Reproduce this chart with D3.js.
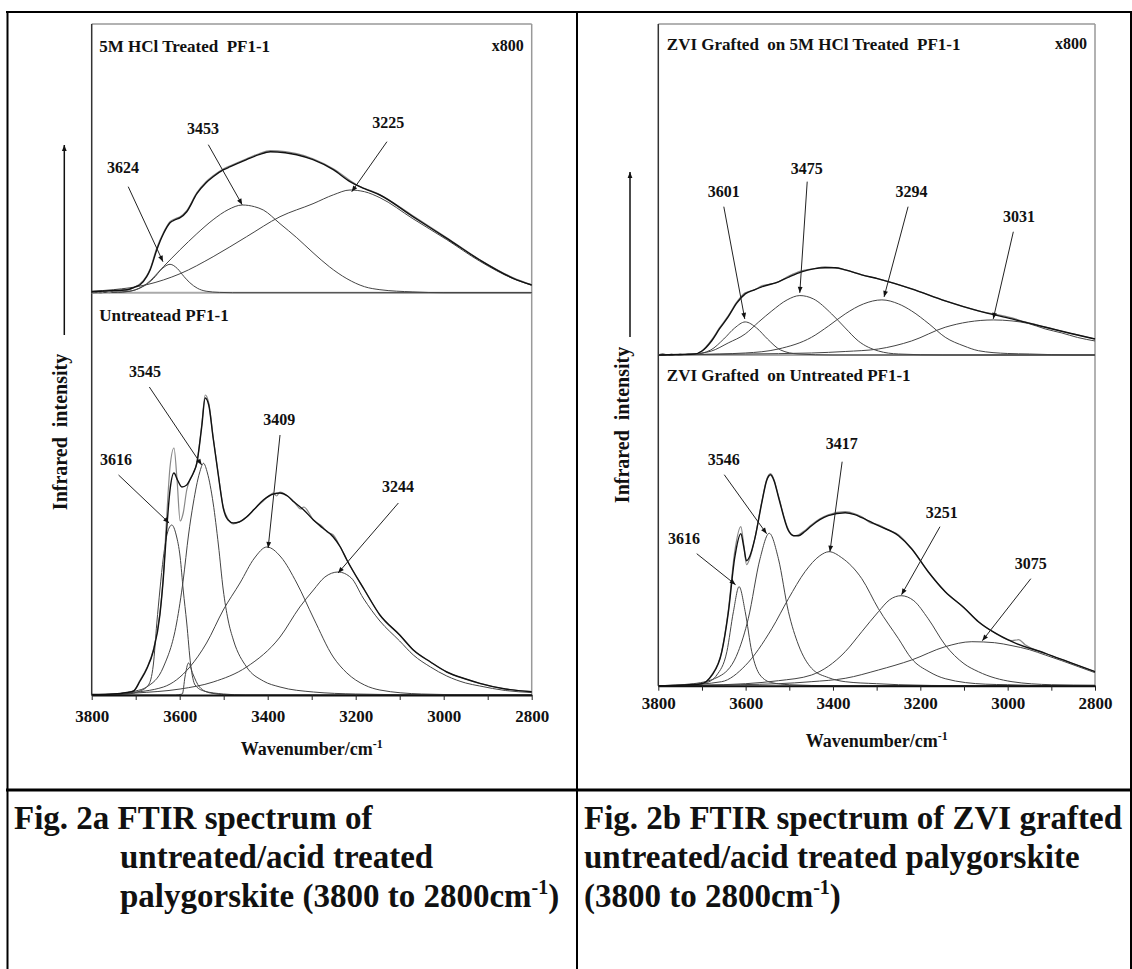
<!DOCTYPE html>
<html>
<head>
<meta charset="utf-8">
<script src="https://cdn.jsdelivr.net/npm/d3@7"></script>
<style>
body { margin: 0; background: #fff; }
svg { display: block; }
text { font-family: "Liberation Serif", "Times New Roman", serif; font-weight: bold; fill: #111; }
</style>
</head>
<body>
<div id="chart"></div>
<script>
// wavenumber axis
const wnTicks = d3.range(3800, 2799, -100);

// ---- Fig 2a upper: 5M HCl treated PF1-1 (x800) ----
const acidMeasured = [[3800,-1],[3790,1],[3780,-0.5],[3770,1.5],[3760,0],[3750,2],[3740,1],[3730,3],[3720,2.5],[3700,6],[3690,9],[3675,17],[3667,24],[3652,45],[3637,60],[3622,71],[3610,74],[3599,76],[3584,82],[3561,100],[3540,111],[3524,117],[3500,124],[3485,127],[3448,134],[3420,139],[3394,142],[3360,141],[3334,139],[3297,134],[3251,124],[3198,108],[3145,98],[3070,77],[2993,55],[2918,33],[2842,15],[2800,8]];
const acidFit = [[3800,1],[3760,2],[3720,3],[3700,6],[3690,8],[3675,16],[3667,23],[3652,43],[3637,59],[3622,70],[3610,73],[3599,75],[3584,81],[3561,99],[3540,110],[3524,116],[3500,123],[3485,126],[3448,133],[3420,138],[3394,141],[3360,140],[3334,138],[3297,133],[3251,123],[3213,111],[3180,104],[3145,97.7],[3070,76],[2993,54.4],[2918,32.7],[2842,14.4],[2800,7.7]];
const acid3624 = [[3800,0],[3740,0.3],[3720,1],[3700,3],[3680,7],[3660,14],[3640,24],[3622,28.4],[3605,24],[3590,16],[3577,10],[3560,4.5],[3540,1.5],[3510,0.3],[3480,0],[2800,0]];
const acid3453 = [[3800,0],[3750,0.5],[3713,1.5],[3675,9],[3637,26],[3599,43],[3561,59],[3524,73],[3490,83],[3458,87.7],[3430,86],[3410,82.7],[3372,69],[3334,55],[3297,40],[3260,26],[3220,14],[3180,6],[3145,3],[3070,0.8],[3000,0],[2800,0]];
const acid3225 = [[3800,1.5],[3751,3],[3675,8],[3599,19],[3524,36],[3448,56],[3372,76],[3297,89],[3250,98],[3213,102.7],[3180,101],[3145,95],[3070,74],[2993,53],[2918,31.5],[2842,14],[2800,7.5]];
const acidLabels = ["3624", "3453", "3225"];
const acidLabelAt = [[3729,120],[3547,159],[3126,165]];
const acidArrowFrom = [[3717,106],[3535,148],[3129,151]];
const acidArrowTo = [[3638,31],[3458,88],[3209,101]];

// ---- Fig 2a lower: untreated PF1-1 ----
const untrMeasured = [[3800,0.5],[3750,1],[3720,2.5],[3705,4],[3690,15],[3675,27],[3660,45],[3645,82],[3637,120],[3630,175],[3622,228],[3613,247],[3606,215],[3599,174],[3592,182],[3584,205],[3577,215],[3569,222],[3561,232],[3550,270],[3542,300],[3534,292],[3524,258],[3512,220],[3501,188],[3490,176],[3478,171],[3465,173],[3448,178],[3430,186],[3410,194],[3395,200],[3387,202],[3380,199],[3372,203],[3355,199],[3340,193],[3325,186],[3318,188],[3296,175],[3275,168],[3265,163],[3251,160],[3235,148],[3220,135],[3180,105],[3145,80],[3100,60],[3069,45],[3030,33],[2993,23],[2950,16],[2918,11.7],[2860,6],[2800,3.3]];
const untrFit = [[3800,0.5],[3750,1],[3720,2.5],[3705,4],[3690,14],[3675,26],[3660,44],[3645,80],[3637,118],[3630,163],[3622,205],[3613,222],[3605,215],[3595,208],[3584,210],[3577,215],[3569,222],[3561,232],[3550,268],[3542,297],[3534,290],[3524,257],[3512,219],[3501,187],[3490,175],[3478,172],[3465,173],[3448,178],[3430,186],[3410,195],[3387,201],[3372,202],[3355,199],[3340,193],[3318,185],[3296,175],[3275,167],[3251,158],[3235,148],[3220,135],[3180,105],[3145,80],[3100,60],[3069,45],[3030,33],[2993,23],[2950,16],[2918,11.7],[2860,6],[2800,3.3]];
const untr3616 = [[3800,0],[3720,1],[3690,4],[3671,10],[3660,30],[3652,72],[3645,105],[3637,138],[3628,162],[3618,170],[3608,160],[3599,138],[3592,105],[3584,72],[3575,30],[3565,10],[3545,4],[3500,1],[3450,0],[2800,0]];
const untr3580 = [[3800,0],[3610,0],[3594,1],[3588,18],[3580,32],[3570,21],[3555,8],[3530,2],[3480,0],[2800,0]];
const untr3545 = [[3800,0],[3750,1],[3700,4],[3675,8],[3637,28],[3607,72],[3592,115],[3580,160],[3569,192],[3555,222],[3546,231.7],[3537,222],[3524,192],[3512,150],[3501,105],[3490,75],[3478,55],[3448,28],[3410,14],[3372,8],[3296,3],[3200,1],[3000,0],[2800,0]];
const untr3409 = [[3800,0],[3720,2],[3637,8],[3577,28],[3539,52],[3501,85],[3463,112],[3430,137],[3402,148],[3370,138],[3334,112],[3296,77],[3251,38],[3220,22],[3180,10],[3145,5],[3050,1],[2900,0],[2800,0]];
const untr3244 = [[3800,0],[3700,2],[3599,6],[3524,13],[3448,28],[3372,58],[3327,88],[3296,105],[3270,118],[3240,123],[3210,117],[3183,97],[3145,74],[3100,54],[3069,40],[3030,28],[2993,19],[2950,12],[2918,9],[2860,4.5],[2800,2.5]];
const untrLabels = ["3616", "3545", "3409", "3244"];
const untrLabelAt = [[3745,230],[3679,318],[3374,270],[3104,203]];
const untrArrowFrom = [[3739,220],[3669,308],[3372,260],[3103,192]];
const untrArrowTo = [[3624,172],[3550,230],[3399,147],[3240,122]];

// ---- Fig 2b upper: ZVI grafted on 5M HCl treated PF1-1 (x800) ----
const zvaMeasured = [[3800,0],[3790,1.5],[3780,0],[3770,1],[3760,-0.5],[3750,1],[3740,0],[3730,1.5],[3716,1],[3700,4],[3678,15],[3660,27],[3640,39],[3620,53],[3601,62],[3580,65],[3563,69],[3540,71],[3525,73],[3500,79],[3472,84],[3445,86],[3418,88],[3395,87],[3372,85],[3334,80],[3296,76],[3220,66],[3143,54],[3067,44],[2990,37],[2960,33],[2914,28],[2850,21],[2800,16]];
const zvaFit = [[3800,0],[3750,0.5],[3716,1],[3700,4],[3678,14],[3660,26],[3640,38],[3620,52],[3601,61],[3580,65],[3563,68],[3525,73],[3500,78],[3472,83],[3445,86],[3418,87],[3395,87],[3372,85],[3334,80],[3296,76],[3220,66],[3143,54],[3067,44],[2990,36],[2914,27.7],[2850,21],[2800,16]];
const zva3601 = [[3800,0],[3720,0.5],[3680,5],[3650,16],[3625,27],[3601,33],[3575,27],[3550,16],[3520,5],[3480,1],[3400,0],[2800,0]];
const zva3475 = [[3800,0],[3750,0.5],[3700,2],[3678,4],[3640,12],[3601,21],[3570,33],[3540,44],[3505,55],[3476,59.3],[3445,56],[3403,41],[3372,27],[3342,14],[3296,4],[3250,1],[3150,0],[2800,0]];
const zva3294 = [[3800,0],[3720,0.5],[3601,2],[3525,6],[3449,17.7],[3410,29],[3372,41],[3330,51],[3288,55],[3250,51],[3220,44],[3180,31],[3143,17.7],[3100,9],[3067,4.3],[3000,1.5],[2950,1],[2850,0],[2800,0]];
const zva3031 = [[3800,0],[3600,1],[3449,2],[3372,3.5],[3296,6],[3220,14],[3143,27.7],[3090,33],[3033,35],[2990,34],[2953,31.5],[2914,26],[2876,22],[2840,17.5],[2800,14]];
const zvaLabels = ["3601", "3475", "3294", "3031"];
const zvaLabelAt = [[3650,158],[3460,181],[3220,158],[2974,133]];
const zvaArrowFrom = [[3650,148],[3459,173],[3228,148],[2987,123]];
const zvaArrowTo = [[3602,36],[3476,62],[3283,58],[3033,36]];

// ---- Fig 2b lower: ZVI grafted on untreated PF1-1 ----
const zvuMeasured = [[3800,0],[3750,0.5],[3701,2],[3678,10.7],[3655,34],[3640,74],[3625,134],[3611,159],[3604,140],[3598,121],[3590,128],[3579,147],[3563,184],[3552,206],[3543,212],[3535,206],[3525,190],[3502,156],[3490,150],[3479,151],[3465,155],[3449,161],[3430,167],[3411,171],[3372,174],[3350,172],[3334,169],[3315,163],[3296,161],[3275,156],[3250,151],[3220,137],[3182,114],[3143,94],[3100,78],[3067,64],[3030,53],[2990,45],[2975,46],[2960,41],[2914,32.4],[2850,22],[2800,14]];
const zvuFit = [[3800,0],[3750,0.5],[3701,2],[3678,10],[3655,33],[3640,72],[3625,128],[3611,152],[3604,138],[3598,125],[3590,130],[3579,147],[3563,183],[3552,205],[3543,211],[3535,205],[3525,189],[3502,155],[3490,150],[3479,150],[3465,154],[3449,160],[3430,166],[3411,170],[3372,173],[3350,171],[3334,168],[3296,160],[3250,150],[3220,137],[3182,114],[3143,94],[3100,78],[3067,64],[3030,53],[2990,44],[2914,32.4],[2850,22],[2800,14]];
const zvu3616 = [[3800,0],[3720,1],[3690,3],[3666,10.7],[3643,34],[3628,74],[3615,99],[3601,74],[3586,34],[3567,10.7],[3540,3],[3500,1],[3400,0],[2800,0]];
const zvu3546 = [[3800,0],[3720,2],[3655,10.7],[3617,34],[3594,67],[3567,127],[3546,152.4],[3525,127],[3502,74],[3479,40.7],[3449,17.4],[3410,8],[3372,4],[3300,2],[3250,1],[3100,0],[2800,0]];
const zvu3417 = [[3800,0],[3750,0.5],[3655,4],[3601,20],[3540,57],[3502,87],[3464,114],[3430,130],[3409,134],[3380,128],[3334,107],[3296,77],[3250,47],[3220,27],[3180,14],[3143,7],[3050,1.5],[3000,1],[2900,0],[2800,0]];
const zvu3251 = [[3800,0],[3700,0.5],[3600,2],[3525,5],[3449,10.7],[3372,34],[3334,54],[3296,74],[3270,86],[3244,90],[3215,85],[3182,67],[3143,40.7],[3100,22],[3067,14],[2990,4],[2900,1],[2800,0.5]];
const zvu3075 = [[3800,0],[3700,0.5],[3525,2],[3450,4],[3372,7.4],[3296,15.7],[3220,25.7],[3143,39],[3082,44],[3030,43],[2990,40],[2950,36],[2914,30.7],[2876,25],[2838,19],[2800,13]];
const zvuLabels = ["3616", "3546", "3417", "3251", "3075"];
const zvuLabelAt = [[3741,142],[3650,221],[3380,237],[3151,168],[2947,117]];
const zvuArrowFrom = [[3712,132],[3649,211],[3379,224],[3155,159],[2947,107]];
const zvuArrowTo = [[3623,101],[3552,152],[3407,134],[3243,91],[3058,45]];

// intensity range of each sub plot (arbitrary units)
const yMaxA = [268.7, 402.3];
const yMaxB = [330.3, 330.7];

let W = 1132, H = 969;
let svg = d3.select("#chart").append("svg")
    .attr("width", W)
    .attr("height", H);

svg.append("rect").attr("width", W).attr("height", H).attr("fill", "#fff");

svg.append("defs").append("marker")
    .attr("id", "head")
    .attr("viewBox", "0 0 10 10")
    .attr("refX", 10).attr("refY", 5)
    .attr("markerWidth", 7).attr("markerHeight", 6)
    .attr("markerUnits", "userSpaceOnUse")
    .attr("orient", "auto")
    .append("path")
    .attr("d", "M0,1L10,5L0,9z")
    .attr("fill", "#111");

// table borders
let border = svg.append("g").attr("stroke", "#000").attr("fill", "none");
border.append("line").attr("x1", 6).attr("x2", W).attr("y1", 12).attr("y2", 12).attr("stroke-width", 2);
border.append("line").attr("x1", 7.5).attr("x2", 7.5).attr("y1", 11).attr("y2", H).attr("stroke-width", 2);
border.append("line").attr("x1", 577).attr("x2", 577).attr("y1", 11).attr("y2", H).attr("stroke-width", 2);
border.append("line").attr("x1", 1131).attr("x2", 1131).attr("y1", 11).attr("y2", H).attr("stroke-width", 2);
border.append("line").attr("x1", 6).attr("x2", W).attr("y1", 790).attr("y2", 790).attr("stroke-width", 3);

function drawPanel(box, subs, yMax) {
    let x = d3.scaleLinear().domain([3800, 2800]).range([box.left, box.right]);
    let g = svg.append("g");

    // frame
    g.append("line").attr("x1", box.left).attr("x2", box.right).attr("y1", box.top).attr("y2", box.top)
        .attr("stroke", "#999").attr("stroke-width", 1.5);
    g.append("line").attr("x1", box.right).attr("x2", box.right).attr("y1", box.top).attr("y2", box.bottom)
        .attr("stroke", "#999").attr("stroke-width", 1.5);
    g.append("line").attr("x1", box.left).attr("x2", box.right).attr("y1", box.mid).attr("y2", box.mid)
        .attr("stroke", "#aaa").attr("stroke-width", 2);
    g.append("line").attr("x1", box.left).attr("x2", box.left).attr("y1", box.top).attr("y2", box.bottom)
        .attr("stroke", "#333").attr("stroke-width", 1.5);

    let bands = [[box.mid, box.top], [box.bottom, box.mid]];
    subs.forEach(function (s, k) {
        let y = d3.scaleLinear().domain([0, yMax[k]]).range(bands[k]);
        let line = d3.line()
            .x(function (d) { return x(d[0]); })
            .y(function (d) { return y(d[1]); })
            .curve(d3.curveMonotoneX);

        s.comps.forEach(function (c) {
            g.append("path").attr("d", line(c))
                .attr("fill", "none").attr("stroke", "#444").attr("stroke-width", 1);
        });
        g.append("path").attr("d", line(s.measured))
            .attr("fill", "none").attr("stroke", "#888").attr("stroke-width", 1.2);
        g.append("path").attr("d", line(s.fit))
            .attr("fill", "none").attr("stroke", "#111").attr("stroke-width", 1.4);

        // peak labels and arrows
        s.labels.forEach(function (lab, i) {
            g.append("line")
                .attr("x1", x(s.from[i][0])).attr("y1", y(s.from[i][1]))
                .attr("x2", x(s.to[i][0])).attr("y2", y(s.to[i][1]))
                .attr("stroke", "#222").attr("stroke-width", 1)
                .attr("marker-end", "url(#head)");
            g.append("text")
                .attr("x", x(s.at[i][0])).attr("y", y(s.at[i][1]))
                .attr("text-anchor", "middle")
                .attr("font-size", 16)
                .text(lab);
        });

        g.append("text")
            .attr("x", box.left + box.titleDx)
            .attr("y", bands[k][1] + box.titleDy)
            .attr("font-size", 17)
            .style("white-space", "pre")
            .text(s.title);
        if (s.scale) {
            g.append("text")
                .attr("x", box.right - 8)
                .attr("y", bands[k][1] + box.titleDy - 1)
                .attr("text-anchor", "end")
                .attr("font-size", 16)
                .text(s.scale);
        }
    });

    // x axis
    let xAxis = d3.axisBottom(x)
        .tickValues(wnTicks)
        .tickSize(5)
        .tickSizeOuter(0)
        .tickPadding(box.tickPad)
        .tickFormat(function (d) { return d % 200 === 0 ? d : ""; });
    let ax = g.append("g")
        .attr("transform", "translate(0," + box.bottom + ")")
        .call(xAxis);
    ax.select(".domain").attr("stroke", "#111").attr("stroke-width", 2);
    ax.selectAll(".tick line").attr("stroke", "#222").attr("stroke-width", 1);
    ax.selectAll(".tick text")
        .attr("font-size", 17)
        .attr("font-family", "Liberation Serif, serif")
        .attr("font-weight", "bold")
        .attr("fill", "#111");

    let xt = g.append("text")
        .attr("x", (box.left + box.right) / 2)
        .attr("y", box.bottom + box.titleGap)
        .attr("text-anchor", "middle")
        .attr("font-size", 18);
    xt.append("tspan").text("Wavenumber/cm");
    xt.append("tspan").attr("dy", -7).attr("font-size", 12).text("-1");

    // y label with arrow
    g.append("text")
        .attr("transform", "translate(" + box.yLabX + "," + box.yLabY + ") rotate(-90)")
        .attr("text-anchor", "middle")
        .attr("dy", "0.35em")
        .attr("font-size", 20)
        .style("white-space", "pre")
        .text("Infrared  intensity");
    g.append("line")
        .attr("x1", box.arrowX).attr("x2", box.arrowX)
        .attr("y1", box.arrowY0).attr("y2", box.arrowY1)
        .attr("stroke", "#111").attr("stroke-width", 1.5)
        .attr("marker-end", "url(#head)");
}

drawPanel(
    { left: 91.7, right: 531.7, top: 24, mid: 292.7, bottom: 695, titleDx: 7.5, titleDy: 28,
      tickPad: 10, titleGap: 60, yLabX: 60, yLabY: 432, arrowX: 64.3, arrowY0: 335, arrowY1: 145 },
    [
        { title: "5M HCl Treated  PF1-1", scale: "x800", measured: acidMeasured, fit: acidFit,
          comps: [acid3624, acid3453, acid3225], labels: acidLabels, at: acidLabelAt, from: acidArrowFrom, to: acidArrowTo },
        { title: "Untreatead PF1-1", measured: untrMeasured, fit: untrFit,
          comps: [untr3616, untr3580, untr3545, untr3409, untr3244], labels: untrLabels, at: untrLabelAt, from: untrArrowFrom, to: untrArrowTo }
    ],
    yMaxA
);

drawPanel(
    { left: 658.3, right: 1095, top: 24, mid: 355, bottom: 685.7, titleDx: 8.5, titleDy: 26,
      tickPad: 6, titleGap: 61, yLabX: 622, yLabY: 425, arrowX: 630, arrowY0: 337, arrowY1: 172 },
    [
        { title: "ZVI Grafted  on 5M HCl Treated  PF1-1", scale: "x800", measured: zvaMeasured, fit: zvaFit,
          comps: [zva3601, zva3475, zva3294, zva3031], labels: zvaLabels, at: zvaLabelAt, from: zvaArrowFrom, to: zvaArrowTo },
        { title: "ZVI Grafted  on Untreated PF1-1", measured: zvuMeasured, fit: zvuFit,
          comps: [zvu3616, zvu3546, zvu3417, zvu3251, zvu3075], labels: zvuLabels, at: zvuLabelAt, from: zvuArrowFrom, to: zvuArrowTo }
    ],
    yMaxB
);

// captions
function caption(lines) {
    lines.forEach(function (l) {
        let t = svg.append("text")
            .attr("x", l.x)
            .attr("y", l.y)
            .attr("font-size", 33);
        t.append("tspan").text(l.text);
        if (l.sup) {
            t.append("tspan").attr("dy", -13).attr("font-size", 20).text(l.sup);
            t.append("tspan").attr("dy", 13).text(l.tail);
        }
    });
}
caption([
    { x: 14, y: 829, text: "Fig. 2a FTIR spectrum of" },
    { x: 120, y: 868, text: "untreated/acid treated" },
    { x: 120, y: 907, text: "palygorskite (3800 to 2800cm", sup: "-1", tail: ")" }
]);
caption([
    { x: 584, y: 829, text: "Fig. 2b FTIR spectrum of ZVI grafted" },
    { x: 584, y: 868, text: "untreated/acid treated palygorskite" },
    { x: 584, y: 907, text: "(3800 to 2800cm", sup: "-1", tail: ")" }
]);
</script>
</body>
</html>
